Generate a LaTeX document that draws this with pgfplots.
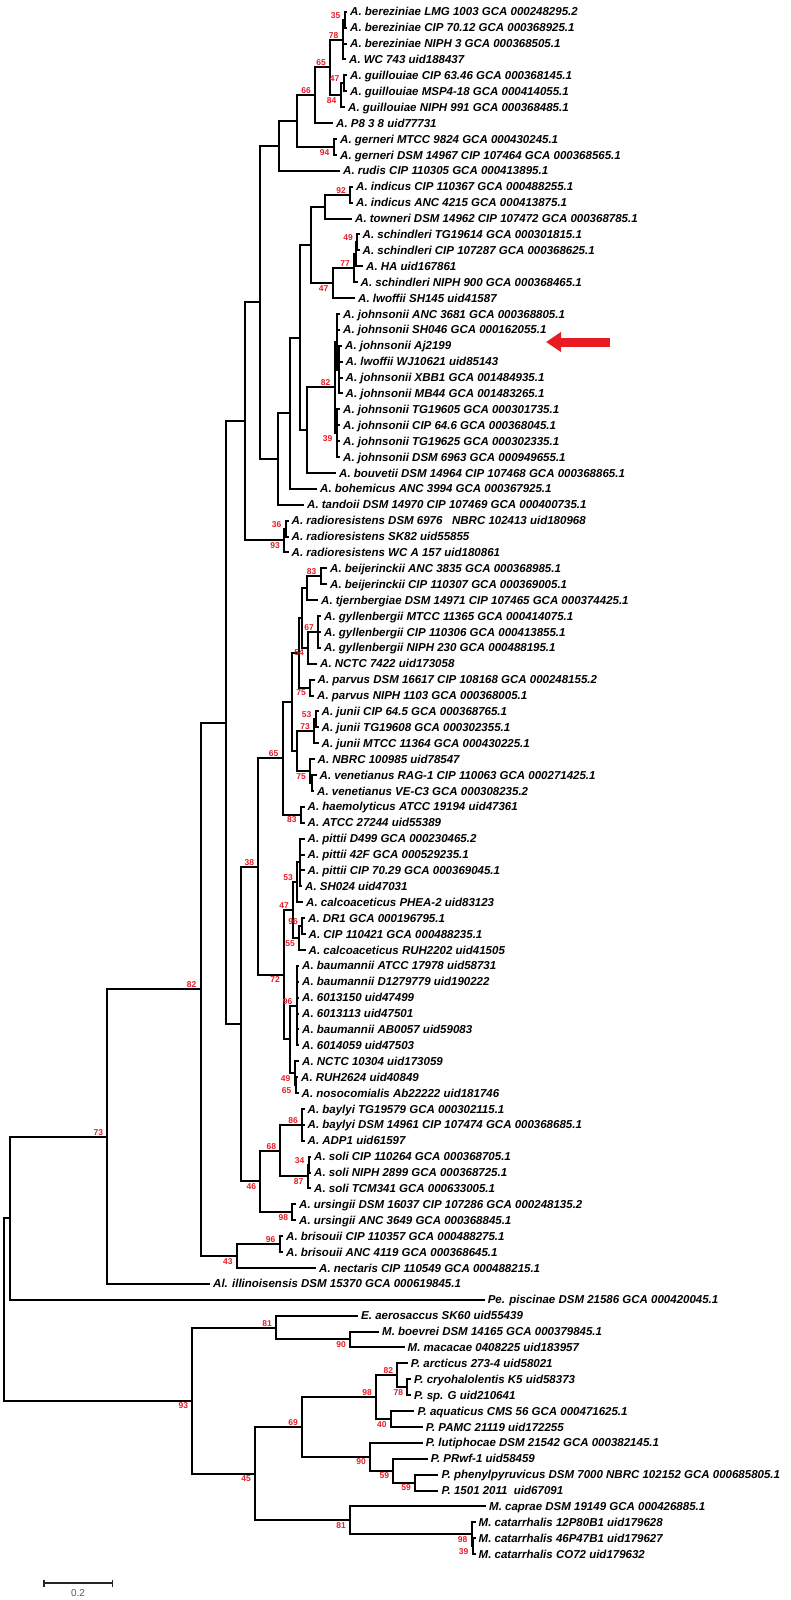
\documentclass[border=0pt]{standalone}
\usepackage{fontspec}
\setmainfont{Liberation Sans}
\usepackage{pgfplots}
\usepackage{pgfplotstable}
\pgfplotsset{compat=1.18}
\usetikzlibrary{arrows.meta}
\definecolor{bootred}{RGB}{230,30,40}
\definecolor{arrowred}{RGB}{232,26,34}

% branches: one bracket per internal node, pixel units of the original figure
\pgfplotstableread{
x y
346 11.8
344.5 11.8
344.5 27.7
346 27.7
nan nan
344.5 19.75
342.5 19.75
342.5 59.5
345 59.5
nan nan
342.5 43.6
346 43.6
nan nan
346 75.4
343.5 75.4
343.5 91.3
346 91.3
nan nan
343.5 83.35
340.5 83.35
340.5 107.2
344 107.2
nan nan
342.5 39.63
330 39.63
330 95.28
340.5 95.28
nan nan
330 67.45
315 67.45
315 123.1
332 123.1
nan nan
336 139
333.5 139
333.5 154.9
336 154.9
nan nan
315 95.28
297 95.28
297 146.95
333.5 146.95
nan nan
297 121.1
279 121.1
279 170.8
339 170.8
nan nan
352 186.7
350 186.7
350 202.6
352 202.6
nan nan
350 194.65
325 194.65
325 218.5
351 218.5
nan nan
358.5 234.4
357 234.4
357 250.3
358.5 250.3
nan nan
357 242.35
356 242.35
356 266.2
362 266.2
nan nan
356 254.28
354 254.28
354 282.1
356.5 282.1
nan nan
354 268.19
332.5 268.19
332.5 298
354 298
nan nan
325 206.58
311 206.58
311 283.1
332.5 283.1
nan nan
341 345.7
339 345.7
339 393.4
341.5 393.4
nan nan
339 361.6
341.5 361.6
nan nan
339 377.5
341.5 377.5
nan nan
339 313.9
336.5 313.9
336.5 369.55
339 369.55
nan nan
336.5 329.8
339 329.8
nan nan
339 409.3
336.5 409.3
336.5 457
339 457
nan nan
336.5 425.2
339 425.2
nan nan
336.5 441.1
339 441.1
nan nan
336.5 341.73
334.5 341.73
334.5 433.15
336.5 433.15
nan nan
334.5 387.44
307.3 387.44
307.3 472.9
335 472.9
nan nan
311 244.84
299.7 244.84
299.7 430.17
307.3 430.17
nan nan
299.7 337.5
289.5 337.5
289.5 488.8
316 488.8
nan nan
289.5 413.15
277.5 413.15
277.5 504.7
303 504.7
nan nan
279 145.95
259.5 145.95
259.5 458.93
277.5 458.93
nan nan
287.5 520.6
285.5 520.6
285.5 536.5
287.5 536.5
nan nan
285.5 528.55
284 528.55
284 552.4
287.5 552.4
nan nan
259.5 302.44
245.2 302.44
245.2 540.48
284 540.48
nan nan
326 568.3
320.5 568.3
320.5 584.2
326 584.2
nan nan
320.5 576.25
307 576.25
307 600.1
317 600.1
nan nan
320 616
318 616
318 647.8
320 647.8
nan nan
318 631.9
320 631.9
nan nan
318 631.9
308 631.9
308 663.7
316 663.7
nan nan
307 588.18
301.5 588.18
301.5 647.8
308 647.8
nan nan
313.5 679.6
310 679.6
310 695.5
313 695.5
nan nan
301.5 617.99
298.5 617.99
298.5 687.55
310 687.55
nan nan
317.5 711.4
315.5 711.4
315.5 727.3
317.5 727.3
nan nan
315.5 719.35
314 719.35
314 743.2
317.5 743.2
nan nan
315.5 775
312 775
312 790.9
313 790.9
nan nan
313.5 759.1
310 759.1
310 782.95
312 782.95
nan nan
314 731.28
297 731.28
297 771.03
310 771.03
nan nan
298.5 652.77
292.2 652.77
292.2 751.15
297 751.15
nan nan
303.5 806.8
300.9 806.8
300.9 822.7
303.5 822.7
nan nan
292.2 701.96
282.5 701.96
282.5 814.75
300.9 814.75
nan nan
303.5 838.6
300 838.6
300 886.3
301 886.3
nan nan
300 854.5
303.5 854.5
nan nan
300 870.4
303.5 870.4
nan nan
300 862.45
297 862.45
297 902.2
302 902.2
nan nan
304 918.1
302 918.1
302 934
304.5 934
nan nan
302 926.05
299 926.05
299 949.9
304.5 949.9
nan nan
297 882.33
293 882.33
293 937.98
299 937.98
nan nan
298 965.8
296.5 965.8
296.5 1045.3
298 1045.3
nan nan
296.5 981.7
298 981.7
nan nan
296.5 997.6
298 997.6
nan nan
296.5 1013.5
298 1013.5
nan nan
296.5 1029.4
298 1029.4
nan nan
297 1077.1
295.5 1077.1
295.5 1093
297.5 1093
nan nan
298 1061.2
294.5 1061.2
294.5 1085.05
295.5 1085.05
nan nan
296.5 1005.55
290 1005.55
290 1073.13
294.5 1073.13
nan nan
293 910.15
284 910.15
284 1039.34
290 1039.34
nan nan
282.5 758.36
258.3 758.36
258.3 974.75
284 974.75
nan nan
303.5 1108.9
302 1108.9
302 1140.7
303.5 1140.7
nan nan
302 1124.8
303.5 1124.8
nan nan
310 1156.6
308.5 1156.6
308.5 1172.5
310 1172.5
nan nan
308.5 1164.55
307.5 1164.55
307.5 1188.4
310 1188.4
nan nan
302 1124.8
280.2 1124.8
280.2 1176.48
307.5 1176.48
nan nan
295 1204.3
292.2 1204.3
292.2 1220.2
295 1220.2
nan nan
280.2 1150.64
260.2 1150.64
260.2 1212.25
292.2 1212.25
nan nan
258.3 866.56
240.6 866.56
240.6 1181.45
260.2 1181.45
nan nan
245.2 421.46
225.5 421.46
225.5 1024.0
240.6 1024.0
nan nan
282 1236.1
279.6 1236.1
279.6 1252
282 1252
nan nan
279.6 1244.05
236.8 1244.05
236.8 1267.9
315 1267.9
nan nan
225.5 722.73
200.5 722.73
200.5 1255.98
236.8 1255.98
nan nan
200.5 989.36
107.3 989.36
107.3 1283.8
209 1283.8
nan nan
107.3 1136.58
10 1136.58
10 1299.7
483.6 1299.7
nan nan
378 1331.5
350 1331.5
350 1347.4
403.5 1347.4
nan nan
357 1315.6
276 1315.6
276 1339.45
350 1339.45
nan nan
410 1379.2
407.3 1379.2
407.3 1395.1
410 1395.1
nan nan
406.7 1363.3
397.3 1363.3
397.3 1387.15
407.3 1387.15
nan nan
413.3 1411
390.7 1411
390.7 1426.9
421.7 1426.9
nan nan
397.3 1375.23
376 1375.23
376 1418.95
390.7 1418.95
nan nan
437.3 1474.6
415 1474.6
415 1490.5
437.3 1490.5
nan nan
426.7 1458.7
393.3 1458.7
393.3 1482.55
415 1482.55
nan nan
421.7 1442.8
370 1442.8
370 1470.63
393.3 1470.63
nan nan
376 1397.09
302 1397.09
302 1456.71
370 1456.71
nan nan
474.5 1538.2
472.5 1538.2
472.5 1554.1
474.5 1554.1
nan nan
474.5 1522.3
471.5 1522.3
471.5 1546.15
472.5 1546.15
nan nan
485 1506.4
350 1506.4
350 1534.23
471.5 1534.23
nan nan
302 1426.9
255 1426.9
255 1520.31
350 1520.31
nan nan
276 1327.53
192.3 1327.53
192.3 1473.6
255 1473.6
nan nan
10 1218.14
4 1218.14
4 1400.57
192.3 1400.57
}\tree

\pgfplotstableread[col sep=semicolon]{
x;y;name
346;11.8;A. bereziniae LMG 1003 GCA 000248295.2
346;27.7;A. bereziniae CIP 70.12 GCA 000368925.1
346;43.6;A. bereziniae NIPH 3 GCA 000368505.1
345;59.5;A. WC 743 uid188437
346;75.4;A. guillouiae CIP 63.46 GCA 000368145.1
346;91.3;A. guillouiae MSP4-18 GCA 000414055.1
344;107.2;A. guillouiae NIPH 991 GCA 000368485.1
332;123.1;A. P8 3 8 uid77731
336;139;A. gerneri MTCC 9824 GCA 000430245.1
336;154.9;A. gerneri DSM 14967 CIP 107464 GCA 000368565.1
339;170.8;A. rudis CIP 110305 GCA 000413895.1
352;186.7;A. indicus CIP 110367 GCA 000488255.1
352;202.6;A. indicus ANC 4215 GCA 000413875.1
351;218.5;A. towneri DSM 14962 CIP 107472 GCA 000368785.1
358.5;234.4;A. schindleri TG19614 GCA 000301815.1
358.5;250.3;A. schindleri CIP 107287 GCA 000368625.1
362;266.2;A. HA uid167861
356.5;282.1;A. schindleri NIPH 900 GCA 000368465.1
354;298;A. lwoffii SH145 uid41587
339;313.9;A. johnsonii ANC 3681 GCA 000368805.1
339;329.8;A. johnsonii SH046 GCA 000162055.1
341;345.7;A. johnsonii Aj2199
341.5;361.6;A. lwoffii WJ10621 uid85143
341.5;377.5;A. johnsonii XBB1 GCA 001484935.1
341.5;393.4;A. johnsonii MB44 GCA 001483265.1
339;409.3;A. johnsonii TG19605 GCA 000301735.1
339;425.2;A. johnsonii CIP 64.6 GCA 000368045.1
339;441.1;A. johnsonii TG19625 GCA 000302335.1
339;457;A. johnsonii DSM 6963 GCA 000949655.1
335;472.9;A. bouvetii DSM 14964 CIP 107468 GCA 000368865.1
316;488.8;A. bohemicus ANC 3994 GCA 000367925.1
303;504.7;A. tandoii DSM 14970 CIP 107469 GCA 000400735.1
287.5;520.6;A. radioresistens DSM 6976~~~NBRC 102413 uid180968
287.5;536.5;A. radioresistens SK82 uid55855
287.5;552.4;A. radioresistens WC A 157 uid180861
326;568.3;A. beijerinckii ANC 3835 GCA 000368985.1
326;584.2;A. beijerinckii CIP 110307 GCA 000369005.1
317;600.1;A. tjernbergiae DSM 14971 CIP 107465 GCA 000374425.1
320;616;A. gyllenbergii MTCC 11365 GCA 000414075.1
320;631.9;A. gyllenbergii CIP 110306 GCA 000413855.1
320;647.8;A. gyllenbergii NIPH 230 GCA 000488195.1
316;663.7;A. NCTC 7422 uid173058
313.5;679.6;A. parvus DSM 16617 CIP 108168 GCA 000248155.2
313;695.5;A. parvus NIPH 1103 GCA 000368005.1
317.5;711.4;A. junii CIP 64.5 GCA 000368765.1
317.5;727.3;A. junii TG19608 GCA 000302355.1
317.5;743.2;A. junii MTCC 11364 GCA 000430225.1
313.5;759.1;A. NBRC 100985 uid78547
315.5;775;A. venetianus RAG-1 CIP 110063 GCA 000271425.1
313;790.9;A. venetianus VE-C3 GCA 000308235.2
303.5;806.8;A. haemolyticus ATCC 19194 uid47361
303.5;822.7;A. ATCC 27244 uid55389
303.5;838.6;A. pittii D499 GCA 000230465.2
303.5;854.5;A. pittii 42F GCA 000529235.1
303.5;870.4;A. pittii CIP 70.29 GCA 000369045.1
301;886.3;A. SH024 uid47031
302;902.2;A. calcoaceticus PHEA-2 uid83123
304;918.1;A. DR1 GCA 000196795.1
304.5;934;A. CIP 110421 GCA 000488235.1
304.5;949.9;A. calcoaceticus RUH2202 uid41505
298;965.8;A. baumannii ATCC 17978 uid58731
298;981.7;A. baumannii D1279779 uid190222
298;997.6;A. 6013150 uid47499
298;1013.5;A. 6013113 uid47501
298;1029.4;A. baumannii AB0057 uid59083
298;1045.3;A. 6014059 uid47503
298;1061.2;A. NCTC 10304 uid173059
297;1077.1;A. RUH2624 uid40849
297.5;1093;A. nosocomialis Ab22222 uid181746
303.5;1108.9;A. baylyi TG19579 GCA 000302115.1
303.5;1124.8;A. baylyi DSM 14961 CIP 107474 GCA 000368685.1
303.5;1140.7;A. ADP1 uid61597
310;1156.6;A. soli CIP 110264 GCA 000368705.1
310;1172.5;A. soli NIPH 2899 GCA 000368725.1
310;1188.4;A. soli TCM341 GCA 000633005.1
295;1204.3;A. ursingii DSM 16037 CIP 107286 GCA 000248135.2
295;1220.2;A. ursingii ANC 3649 GCA 000368845.1
282;1236.1;A. brisouii CIP 110357 GCA 000488275.1
282;1252;A. brisouii ANC 4119 GCA 000368645.1
315;1267.9;A. nectaris CIP 110549 GCA 000488215.1
209;1283.8;Al. illinoisensis DSM 15370 GCA 000619845.1
483.6;1299.7;Pe. piscinae DSM 21586 GCA 000420045.1
357;1315.6;E. aerosaccus SK60 uid55439
378;1331.5;M. boevrei DSM 14165 GCA 000379845.1
403.5;1347.4;M. macacae 0408225 uid183957
406.7;1363.3;P. arcticus 273-4 uid58021
410;1379.2;P. cryohalolentis K5 uid58373
410;1395.1;P. sp. G uid210641
413.3;1411;P. aquaticus CMS 56 GCA 000471625.1
421.7;1426.9;P. PAMC 21119 uid172255
421.7;1442.8;P. lutiphocae DSM 21542 GCA 000382145.1
426.7;1458.7;P. PRwf-1 uid58459
437.3;1474.6;P. phenylpyruvicus DSM 7000 NBRC 102152 GCA 000685805.1
437.3;1490.5;P. 1501 2011~~uid67091
485;1506.4;M. caprae DSM 19149 GCA 000426885.1
474.5;1522.3;M. catarrhalis 12P80B1 uid179628
474.5;1538.2;M. catarrhalis 46P47B1 uid179627
474.5;1554.1;M. catarrhalis CO72 uid179632
}\leaves

% bootstrap values set above the branch into the node
\pgfplotstableread{
x y b
344.5 19.75 35
342.5 39.63 78
330 67.45 65
315 95.28 66
343.5 83.35 47
350 194.65 92
357 242.35 49
354 268.19 77
334.5 387.44 82
285.5 528.55 36
320.5 576.25 83
318 631.9 67
315.5 719.35 53
314 731.28 73
282.5 758.36 65
258.3 866.56 38
297 882.33 53
293 910.15 47
302 926.05 96
296.5 1005.55 96
302 1124.8 86
280.2 1150.64 68
308.5 1164.55 34
279.6 1244.05 96
200.5 989.36 82
107.3 1136.58 73
276 1327.53 81
302 1426.9 69
376 1397.09 98
397.3 1375.23 82
}\bsup

% bootstrap values set below the branch into the node
\pgfplotstableread{
x y b
340.5 95.28 84
333.5 146.95 94
332.5 283.1 47
336.5 433.15 39
284 540.48 93
308 647.8 54
310 687.55 75
310 771.03 75
300.9 814.75 83
299 937.98 55
284 974.75 72
294.5 1073.13 49
295.5 1085.05 65
307.5 1176.48 87
260.2 1181.45 46
292.2 1212.25 98
236.8 1255.98 43
350 1339.45 90
192.3 1400.57 93
255 1473.6 45
407.3 1387.15 78
390.7 1418.95 40
370 1456.71 90
393.3 1470.63 59
415 1482.55 59
350 1520.31 81
471.5 1534.23 98
472.5 1546.15 39
}\bsdown

\begin{document}
\begin{tikzpicture}
\begin{axis}[
  scale only axis,
  width=790pt, height=1600pt,
  xmin=0, xmax=790, ymin=0, ymax=1600,
  y dir=reverse,
  hide axis,
  clip=false,
  unbounded coords=jump,
]
\addplot[black, line width=2pt, line cap=rect, line join=miter] table[x=x, y=y] {\tree};

\addplot[draw=none, mark=none, nodes near coords, point meta=explicit symbolic,
  nodes near coords style={anchor=base west, inner sep=0pt, xshift=4pt, yshift=-4.1pt,
    font=\fontsize{11.5}{12}\selectfont\bfseries\itshape}]
  table[x=x, y=y, meta=name] {\leaves};

\addplot[draw=none, mark=none, nodes near coords, point meta=explicit symbolic,
  nodes near coords style={anchor=south east, inner sep=0pt, xshift=-4pt, yshift=1.2pt,
    text=bootred, font=\fontsize{8.5}{9}\selectfont\bfseries}]
  table[x=x, y=y, meta=b] {\bsup};

\addplot[draw=none, mark=none, nodes near coords, point meta=explicit symbolic,
  nodes near coords style={anchor=north east, inner sep=0pt, xshift=-4pt, yshift=-2pt,
    text=bootred, font=\fontsize{8.5}{9}\selectfont\bfseries}]
  table[x=x, y=y, meta=b] {\bsdown};

% arrow pointing at A. johnsonii Aj2199
\addplot[draw=arrowred, line width=9pt, -{Triangle[length=15pt, width=19pt]}]
  coordinates {(610,342) (546,342)};

% scale bar
\addplot[black!85, line width=1.6pt, {Bar[width=7pt]}-{Bar[width=7pt]}]
  coordinates {(43.3,1583) (113.3,1583)};
\addplot[draw=none, mark=none, nodes near coords={0.2},
  nodes near coords style={anchor=north, inner sep=0pt, text=black!65, font=\fontsize{10}{11}\selectfont}]
  coordinates {(78,1589)};
\end{axis}
\pgfresetboundingbox
\path (current axis.south west) rectangle (current axis.north east);
\end{tikzpicture}
\end{document}
